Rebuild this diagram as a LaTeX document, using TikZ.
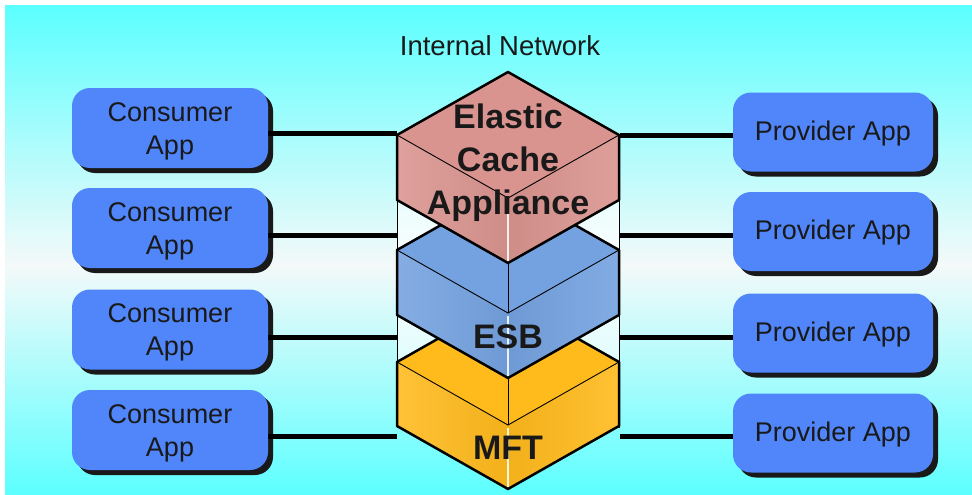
\documentclass[tikz,border=0pt]{standalone}
\usepackage{fontspec}
\setmainfont{Liberation Sans}
\usetikzlibrary{shadows}

\definecolor{bgcyan}{RGB}{92,255,255}
\definecolor{bgpale}{RGB}{244,249,249}
\definecolor{appblue}{RGB}{80,134,250}
\definecolor{txt}{RGB}{25,25,25}
\definecolor{cachered}{RGB}{218,148,143}
\definecolor{esbblue}{RGB}{116,162,224}
\definecolor{mftyellow}{RGB}{255,186,28}

% isometric box: #1 = y of the side corners, #2 = side height,
% #3 = fill colour, #4 = 1 to draw the back edge on the top face
\newcommand{\isobox}[4]{%
  \fill[#3] (508,{#1-63}) -- (619,#1) -- (508,{#1+63}) -- (397,#1) -- cycle;
  \shade[left color=#3!88!white, right color=#3!95!black]
    (397,#1) -- (508,{#1+63}) -- (508,{#1+63+#2}) -- (397,{#1+#2}) -- cycle;
  \shade[left color=#3!95!black, right color=#3!90!white]
    (508,{#1+63}) -- (619,#1) -- (619,{#1+#2}) -- (508,{#1+63+#2}) -- cycle;
  \ifnum#4=1 \draw[line width=0.9pt] (508,{#1-63}) -- (508,{#1+63}); \fi
  \draw[line width=0.9pt] (397,#1) -- (508,{#1+63}) -- (619,#1);
  \draw[white!85!#3, line width=1.3pt] (508,{#1+66}) -- (508,{#1+61+#2});
  \draw[line width=2.5pt, line join=round]
    (508,{#1-63}) -- (619,#1) -- (619,{#1+#2}) -- (508,{#1+63+#2})
    -- (397,{#1+#2}) -- (397,#1) -- cycle;
}

\begin{document}
\begin{tikzpicture}[x=1pt, y=-1pt,
  appbox/.style={rounded corners=18pt, fill=appblue, minimum width=196pt,
    minimum height=80pt, inner sep=0pt,
    drop shadow={shadow xshift=5pt, shadow yshift=-5pt, opacity=1, fill=black!90}},
  provbox/.style={appbox, minimum width=200pt, minimum height=79pt},
  apptext/.style={align=center, text=txt, inner sep=0pt,
    font=\fontsize{27}{33}\selectfont},
  link/.style={line width=5pt, black},
  stacklabel/.style={font=\bfseries\fontsize{34}{43}\selectfont, text=txt, align=center}]

\useasboundingbox (0,0) rectangle (972,495);

% backdrop
\fill[white] (0,0) rectangle (972,495);
\shade[top color=bgcyan, bottom color=bgpale] (5,6) rectangle (972,265);
\shade[top color=bgpale, bottom color=bgcyan] (5,264.5) rectangle (972,495);

\node[font=\fontsize{27.5}{31}\selectfont, text=txt] (net) at (500,46) {Internal Network};

% column behind the stack
\node[draw, line width=1pt, fill=white, fill opacity=0.6, minimum width=222pt,
      minimum height=292pt, inner sep=0pt] (col) at (508,281) {};

% consumer applications
\node[appbox] (c1) at (170,128) {};
\node[appbox] (c2) at (170,228) {};
\node[appbox] (c3) at (170,329.5) {};
\node[appbox] (c4) at (170,430) {};
\foreach \i in {1,...,4}
  \node[apptext] (ct\i) at ([yshift=-3pt]c\i.center) {Consumer\\App};

% provider applications
\node[provbox] (p1) at (833,132) {};
\node[provbox] (p2) at (833,231.5) {};
\node[provbox] (p3) at (833,333) {};
\node[provbox] (p4) at (833,433) {};
\foreach \i in {1,...,4}
  \node[apptext] (pt\i) at ([yshift=-1.5pt]p\i.center) {Provider App};

% links into the stack
\foreach \i/\d in {1/5,2/7,3/7.5,4/6}
  \draw[link] ([yshift=-\d pt]c\i.east) -- ([yshift=-\d pt]c\i.east -| col.west);
\foreach \i/\d in {1/3,2/3.5,3/4,4/3}
  \draw[link] ([yshift=-\d pt]p\i.west) -- ([yshift=-\d pt]p\i.west -| col.east);

% the stack, drawn from the bottom up
\isobox{362}{64}{mftyellow}{1}
\isobox{250}{65}{esbblue}{1}
\isobox{135}{65}{cachered}{0}

\node[stacklabel] (eca) at (508,163) {Elastic\\Cache\\Appliance};
\node[stacklabel] (esb) at (508,337) {ESB};
\node[stacklabel] (mft) at (508,448) {MFT};

\end{tikzpicture}
\end{document}
